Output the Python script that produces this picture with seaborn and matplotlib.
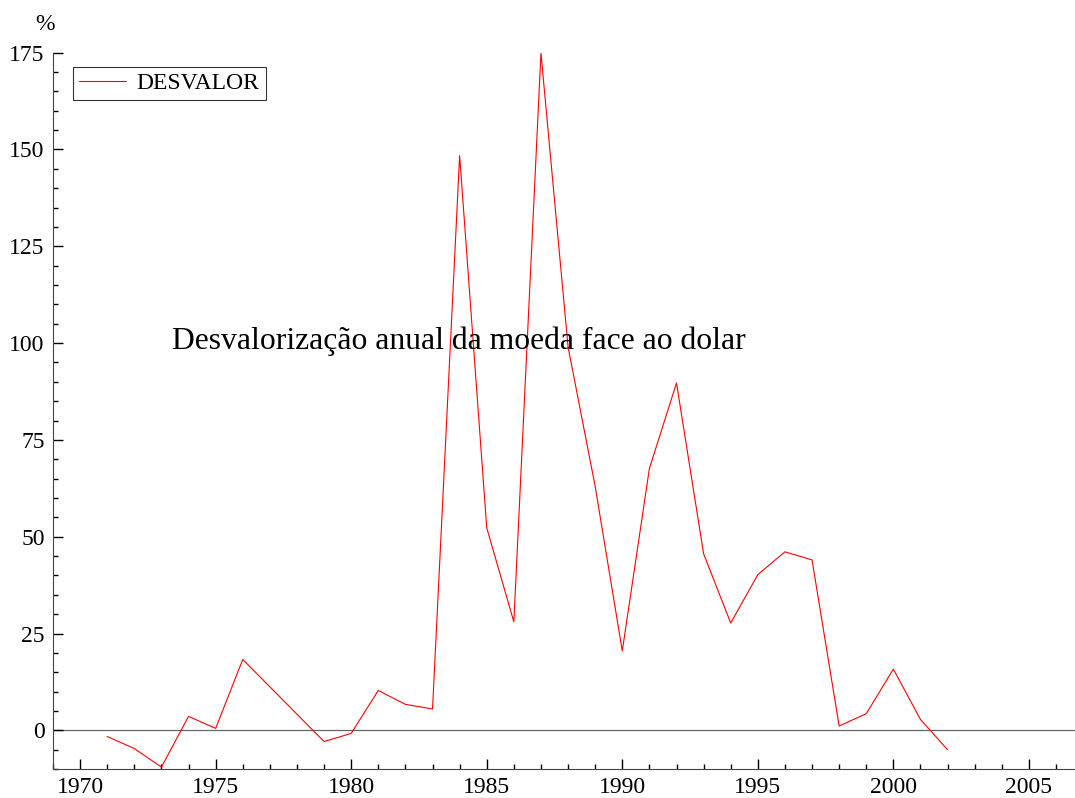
# Desvalorizacao anual da moeda face ao dolar (DESVALOR)
import pandas as pd
import matplotlib.pyplot as plt
import seaborn as sns
from matplotlib.ticker import MultipleLocator

# values (1977 and 1978 not readable, line goes straight)
years = [1971, 1972, 1973, 1974, 1975, 1976, 1979, 1980, 1981, 1982, 1983,
         1984, 1985, 1986, 1987, 1988, 1989, 1990, 1991, 1992, 1993, 1994,
         1995, 1996, 1997, 1998, 1999, 2000, 2001, 2002]
desvalor = [-1.6, -4.7, -9.5, 3.6, 0.5, 18.3, -2.9, -0.8, 10.3, 6.7, 5.5,
            148.4, 52.3, 28.0, 174.9, 99.0, 63.0, 20.5, 67.6, 89.7, 45.6, 27.7,
            40.2, 46.1, 44.0, 1.1, 4.3, 15.8, 2.8, -5.0]

df = pd.DataFrame({'Ano': years, 'DESVALOR': desvalor})

sns.set_style('ticks')
plt.rcParams['font.family'] = ['Liberation Serif', 'DejaVu Serif']
plt.rcParams['text.color'] = 'black'
plt.rcParams['xtick.color'] = 'black'
plt.rcParams['ytick.color'] = 'black'

fig = plt.figure(figsize=(10.75, 7.98), dpi=100)
ax = fig.add_axes([0.0493, 0.0363, 0.9507, 0.8977])

sns.lineplot(data=df, x='Ano', y='DESVALOR', color='red', linewidth=0.8,
             label='DESVALOR', ax=ax)
ax.axhline(0, color='#666666', linewidth=0.9, zorder=0)

ax.set_xlim(1969, 2006.7)
ax.set_ylim(-10, 175)
ax.xaxis.set_major_locator(MultipleLocator(5))
ax.xaxis.set_minor_locator(MultipleLocator(1))
ax.yaxis.set_major_locator(MultipleLocator(25))
ax.yaxis.set_minor_locator(MultipleLocator(5))
ax.tick_params(which='major', direction='in', length=7, width=1, labelsize=17, pad=6)
ax.tick_params(which='minor', direction='in', length=3.5, width=1)
ax.set_xlabel('')
ax.set_ylabel('')
sns.despine(ax=ax)
for s in ['left', 'bottom']:
    ax.spines[s].set_color('#444444')

ax.text(0.002, 1.025, '%', transform=ax.transAxes, fontsize=17, ha='right', va='bottom')
ax.text(0.1164, 0.5857, 'Desvalorização anual da moeda face ao dolar',
        transform=ax.transAxes, fontsize=22.8, ha='left', va='baseline')

leg = ax.legend(loc='upper left', bbox_to_anchor=(0.0196, 0.98), fontsize=17,
                frameon=True, fancybox=False, borderaxespad=0, handlelength=2.0,
                handletextpad=0.45, borderpad=0.25)
leg.get_frame().set_edgecolor('black')
leg.get_frame().set_linewidth(0.8)

fig.savefig('out.png', dpi=100)
